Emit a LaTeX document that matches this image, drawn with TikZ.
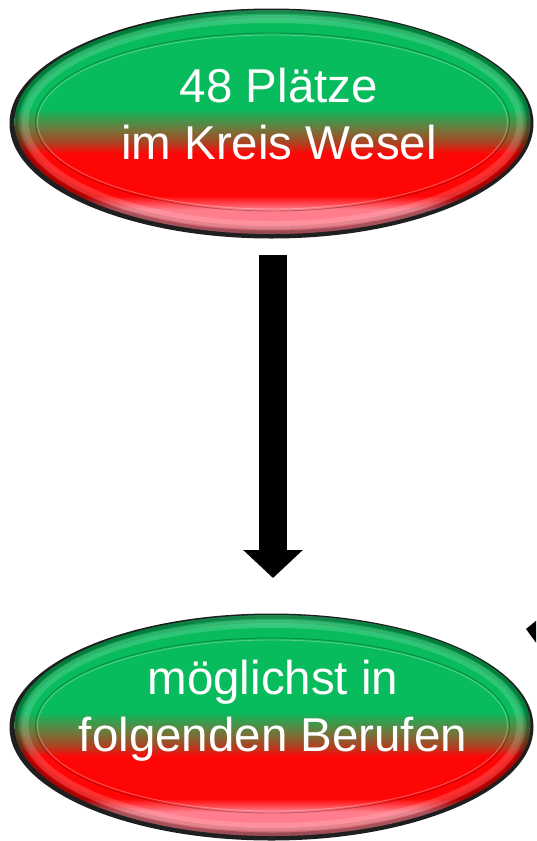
\documentclass[tikz,border=0pt]{standalone}
\usepackage{fontspec}
\setmainfont{Liberation Sans}
\usetikzlibrary{arrows.meta,shapes.geometric}
\definecolor{ogreen}{RGB}{8,187,92}
\definecolor{ogreenhi}{RGB}{45,205,120}
\definecolor{oolive}{RGB}{112,120,60}
\definecolor{obrred}{RGB}{170,68,35}
\definecolor{ored}{RGB}{255,6,6}
\definecolor{opink}{RGB}{255,125,140}
\definecolor{opinkdk}{RGB}{225,110,125}
\pgfdeclareverticalshading{ovalshade}{100bp}{color(0bp)=(opinkdk); color(25bp)=(opinkdk); color(27bp)=(opink); color(30.5bp)=(opink); color(33.5bp)=(ored); color(43bp)=(ored); color(45.5bp)=(obrred); color(48.5bp)=(oolive); color(53bp)=(ogreen); color(72bp)=(ogreen); color(75bp)=(ogreenhi); color(100bp)=(ogreenhi)}
\tikzset{
  oval/.style={ellipse, inner sep=0pt,
    shading=ovalshade,
    path picture={
      \draw[black, opacity=0.12, line width=16pt] (path picture bounding box.center) ellipse (0.5*\pgfkeysvalueof{/pgf/minimum width} and 0.5*\pgfkeysvalueof{/pgf/minimum height});
      \draw[black, opacity=0.25, line width=7pt] (path picture bounding box.center) ellipse (0.5*\pgfkeysvalueof{/pgf/minimum width} and 0.5*\pgfkeysvalueof{/pgf/minimum height});
      \draw[white, opacity=0.16, line width=8pt] (path picture bounding box.center) ellipse (0.5*\pgfkeysvalueof{/pgf/minimum width}-10pt and 0.5*\pgfkeysvalueof{/pgf/minimum height}-9pt);
      \draw[black, opacity=0.25, line width=0.9pt] (path picture bounding box.center) ellipse (0.5*\pgfkeysvalueof{/pgf/minimum width}-21pt and 0.5*\pgfkeysvalueof{/pgf/minimum height}-23pt);
      \draw[white, opacity=0.3, line width=0.9pt] (path picture bounding box.center) ellipse (0.5*\pgfkeysvalueof{/pgf/minimum width}-23pt and 0.5*\pgfkeysvalueof{/pgf/minimum height}-25pt);
    }},
  rim/.style={fill=black!88},
  ovaltext/.style={text=white, align=center, font=\fontsize{47.5}{57}\selectfont, inner sep=0pt},
  bigarrow/.style={line width=28pt, -{Triangle[length=28pt, width=58pt]}},
}
\begin{document}
\begin{tikzpicture}[x=1pt, y=-1pt]
\useasboundingbox (0,0) rectangle (536,841);
\clip (0,0) rectangle (536,841);
% top oval
\fill[rim] (271.5,123.5) ellipse (262pt and 115pt);
\node[oval, minimum width=516pt, minimum height=224pt] (top) at (272.5,122) {};
\node[ovaltext] (toptext) at (279,114.5) {48 Plätze\\im Kreis Wesel};
% bottom oval
\fill[rim] (271.5,727) ellipse (262pt and 113.5pt);
\node[oval, minimum width=516pt, minimum height=221pt] (bottom) at (272.5,725.5) {};
\node[ovaltext] (bottomtext) at (273,711) {möglichst in\\folgenden Berufen};
% arrow
\coordinate (a1) at (273,255);
\coordinate (a2) at (273,578);
\draw[bigarrow] (a1) -- (a2);
% partial arrow head at right edge
\coordinate (h1) at (526,629);
\coordinate (h2) at (548,611);
\coordinate (h3) at (548,659);
\fill[black] (h1) -- (h2) -- (h3) -- cycle;
\end{tikzpicture}
\end{document}
